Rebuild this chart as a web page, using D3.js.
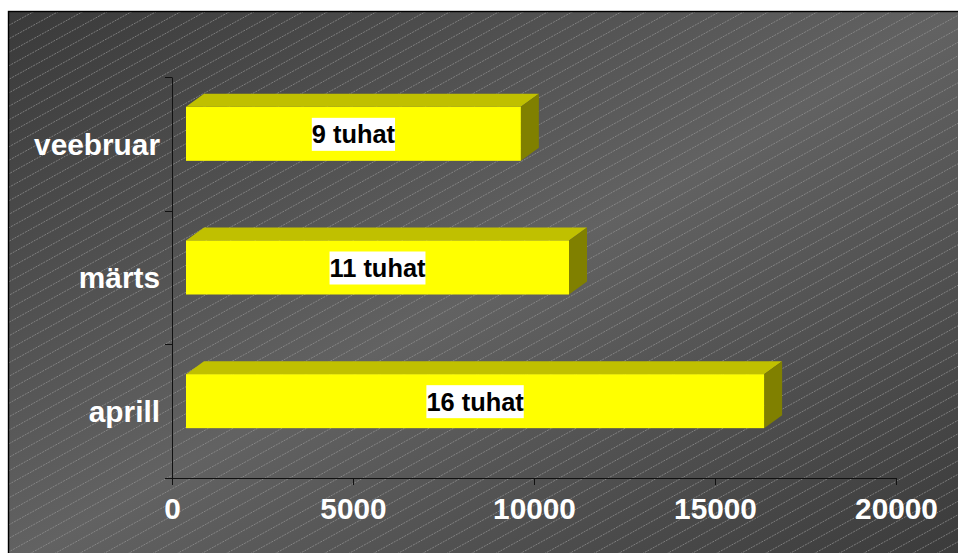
<!DOCTYPE html>
<html>
<head>
<meta charset="utf-8">
<script src="https://cdn.jsdelivr.net/npm/d3@7"></script>
<style>
  body { margin: 0; background: #fff; overflow: hidden; }
  text { font-family: "Liberation Sans", Arial, sans-serif; font-weight: bold; }
</style>
</head>
<body>
<div id="chart"></div>
<script>
const categories = ['veebruar', 'märts', 'aprill'];
const values = [9250, 10580, 15970];
const barLabels = ['9 tuhat', '11 tuhat', '16 tuhat'];
const xTicks = [0, 5000, 10000, 15000, 20000];

const width = 958, height = 553;

const svg = d3.select('#chart').append('svg')
    .attr('width', width)
    .attr('height', height)
    .style('display', 'block');

const defs = svg.append('defs');

// background: dark corners top left / bottom right, lighter across the middle
const grad = defs.append('linearGradient')
    .attr('id', 'bg')
    .attr('x1', 0).attr('y1', 0)
    .attr('x2', 1).attr('y2', 1);
grad.append('stop').attr('offset', 0).attr('stop-color', '#3a3a3a');
grad.append('stop').attr('offset', 0.5).attr('stop-color', '#626262');
grad.append('stop').attr('offset', 1).attr('stop-color', '#3a3a3a');

defs.append('clipPath').attr('id', 'frame')
    .append('rect')
    .attr('x', 8.5).attr('y', 11.5)
    .attr('width', width).attr('height', height);

svg.append('rect')
    .attr('x', 8.5).attr('y', 11.5)
    .attr('width', width).attr('height', height)
    .attr('fill', 'url(#bg)');

// thin diagonal hatching, drawn as real lines because a pattern comes out blurred
const hatchDx = 24.5, hatchDy = 13.5;
svg.append('g')
    .attr('clip-path', 'url(#frame)')
    .selectAll('line')
    .data(d3.range(-2, 80))
    .enter().append('line')
    .attr('x1', function(k) { return 33 + k * hatchDx - 50 * hatchDx; })
    .attr('y1', 12 + 50 * hatchDy)
    .attr('x2', function(k) { return 33 + k * hatchDx + 10 * hatchDx; })
    .attr('y2', 12 - 10 * hatchDy)
    .attr('stroke', '#969696')
    .attr('stroke-width', 0.7)
    .attr('stroke-dasharray', '2 1');

svg.append('rect')
    .attr('x', 8.5).attr('y', 11.5)
    .attr('width', width).attr('height', height)
    .attr('fill', 'none')
    .attr('stroke', '#000')
    .attr('stroke-width', 1.4);

const x = d3.scaleLinear().domain([0, 20000]).range([172, 896]);
const y = d3.scaleBand().domain(categories).range([77, 478])
    .paddingInner(0.596).paddingOuter(0.298);

// 3d look of the bars
const floorX = 14, floorY = -10;
const depthX = 18, depthY = -13;

const bars = svg.append('g').selectAll('g')
    .data(categories)
    .enter().append('g');

function barLeft(i) { return x(0) + floorX; }
function barRight(i) { return x(values[i]) + floorX; }
function barTop(d) { return y(d) + floorY; }

bars.append('polygon')
    .attr('fill', '#c0c000')
    .attr('points', function(d, i) {
        const t = barTop(d);
        return [[barLeft(i), t], [barLeft(i) + depthX, t + depthY], [barRight(i) + depthX, t + depthY], [barRight(i), t]].join(' ');
    });

bars.append('polygon')
    .attr('fill', '#808000')
    .attr('points', function(d, i) {
        const t = barTop(d), b = t + y.bandwidth();
        return [[barRight(i), t], [barRight(i) + depthX, t + depthY], [barRight(i) + depthX, b + depthY], [barRight(i), b]].join(' ');
    });

bars.append('rect')
    .attr('fill', '#ffff00')
    .attr('x', function(d, i) { return barLeft(i); })
    .attr('y', function(d) { return barTop(d); })
    .attr('width', function(d, i) { return barRight(i) - barLeft(i); })
    .attr('height', y.bandwidth());

// labels on white boxes
const labelBg = bars.append('rect').attr('fill', '#fff');
const labels = bars.append('text')
    .attr('x', function(d, i) { return (barLeft(i) + barRight(i)) / 2; })
    .attr('y', function(d) { return barTop(d) + y.bandwidth() / 2 + 9.5; })
    .attr('text-anchor', 'middle')
    .attr('font-size', 25.4)
    .attr('fill', '#000')
    .text(function(d, i) { return barLabels[i]; });

labelBg.each(function(d, i) {
    const w = labels.nodes()[i].getComputedTextLength();
    d3.select(this)
        .attr('x', (barLeft(i) + barRight(i)) / 2 - w / 2)
        .attr('y', barTop(d) + y.bandwidth() / 2 - 16)
        .attr('width', w)
        .attr('height', 33);
});

// axes
const xAxis = svg.append('g')
    .attr('transform', 'translate(0,478)')
    .call(d3.axisBottom(x).tickValues(xTicks).tickFormat(d3.format('d')).tickSize(7).tickSizeOuter(7).tickPadding(13));

const yAxis = svg.append('g')
    .attr('transform', 'translate(172,0)')
    .call(d3.axisLeft(y).tickSize(0).tickPadding(12));

// category ticks sit between the bands, not on them
const yEdges = d3.range(categories.length + 1).map(function(i) { return 77 + i * y.step(); });
yAxis.selectAll('.edge')
    .data(yEdges)
    .enter().append('line')
    .attr('class', 'edge')
    .attr('x1', -7).attr('x2', 0)
    .attr('y1', function(d) { return Math.round(d) + 0.5; })
    .attr('y2', function(d) { return Math.round(d) + 0.5; })
    .attr('stroke', '#111');

svg.selectAll('.domain, .tick line').attr('stroke', '#111');
svg.selectAll('.tick text')
    .attr('fill', '#fff')
    .attr('font-size', 29.8)
    .attr('font-family', '"Liberation Sans", Arial, sans-serif');
yAxis.selectAll('.tick text').attr('dy', '0.36em');
</script>
</body>
</html>
